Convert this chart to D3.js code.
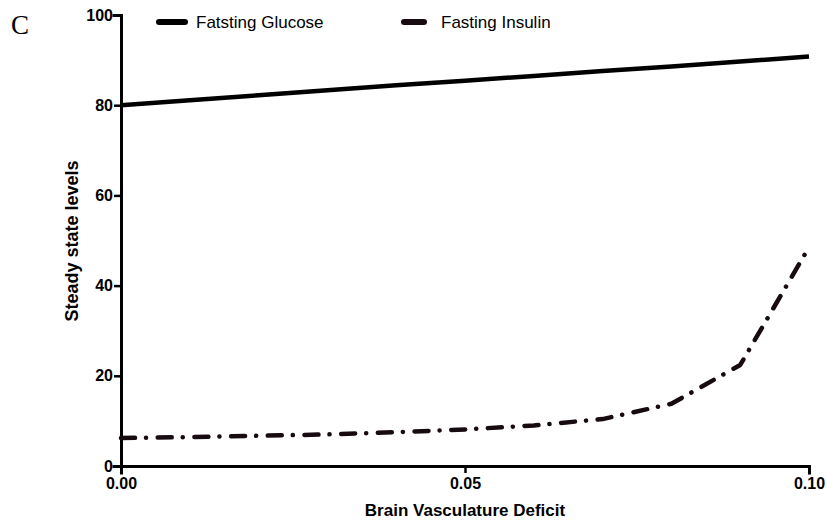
<!DOCTYPE html>
<html><head><meta charset="utf-8">
<script src="https://cdn.jsdelivr.net/npm/d3@7/dist/d3.min.js"></script>
<style>body{margin:0;background:#fff}svg{display:block}</style>
</head><body>
<svg id="c" width="827" height="523"></svg>
<script>
const deficit = [0.00,0.01,0.02,0.03,0.04,0.05,0.06,0.07,0.08,0.09,0.10];
const glucose = [80.0,81.1,82.2,83.3,84.4,85.4,86.5,87.6,88.6,89.7,90.8];
const insulin = [6.2,6.4,6.7,7.0,7.5,8.1,9.0,10.4,13.8,22.4,48.5];
const seriesNames = ["Fatsting Glucose","Fasting Insulin"];
const xTicks = [0,0.05,0.10];
const yTicks = [0,20,40,60,80,100];

const svg = d3.select("#c");
const x = d3.scaleLinear().domain([0,0.10]).range([121,809]);
const y = d3.scaleLinear().domain([0,100]).range([466,15]);
const sans = "Liberation Sans, Arial, sans-serif";

const xAxis = svg.append("g").attr("transform","translate(0,466)")
  .call(d3.axisBottom(x).tickValues(xTicks).tickFormat(d3.format(".2f")).tickSizeOuter(0).tickSize(7).tickPadding(5));
const yAxis = svg.append("g").attr("transform","translate(121,0)")
  .call(d3.axisLeft(y).tickValues(yTicks).tickSizeOuter(0).tickSize(7).tickPadding(1));
[xAxis,yAxis].forEach(g=>{
  g.select(".domain").attr("stroke","#000").attr("stroke-width",3).attr("stroke-linecap","square");
  g.selectAll(".tick line").attr("stroke","#000").attr("stroke-width",2.5);
  g.selectAll(".tick text").attr("fill","#000").style("font-family",sans).style("font-weight","bold").style("font-size","16px");
});

const line = (vals)=>d3.line().x((d,i)=>x(deficit[i])).y(d=>y(d))(vals);
svg.append("path").attr("d",line(glucose)).attr("fill","none").attr("stroke","#000").attr("stroke-width",4.5);
svg.append("path").attr("d",line(insulin)).attr("fill","none").attr("stroke","#170a10").attr("stroke-width",4.5)
  .attr("stroke-linecap","round").attr("stroke-linejoin","round").attr("stroke-dasharray","14,11,0.1,11.6");

// legend
const leg = [{x1:159,x2:185,tx:196,c:"#000"},{x1:404,x2:424,tx:441,c:"#170a10"}];
leg.forEach((l,i)=>{
  svg.append("line").attr("x1",l.x1).attr("x2",l.x2).attr("y1",22).attr("y2",22)
    .attr("stroke",l.c).attr("stroke-width",6).attr("stroke-linecap","round");
  svg.append("text").attr("x",l.tx).attr("y",28).text(seriesNames[i])
    .style("font-family",sans).style("font-size","17px").attr("fill","#000");
});

svg.append("text").attr("x",465).attr("y",516).attr("text-anchor","middle").text("Brain Vasculature Deficit")
  .style("font-family",sans).style("font-weight","bold").style("font-size","17px");
svg.append("text").attr("transform","translate(78,241) rotate(-90)").attr("text-anchor","middle").text("Steady state levels")
  .style("font-family",sans).style("font-weight","bold").style("font-size","18px");
svg.append("text").attr("x",11).attr("y",34).text("C")
  .style("font-family","Liberation Serif, Times New Roman, serif").style("font-size","27px");
</script>
</body></html>
